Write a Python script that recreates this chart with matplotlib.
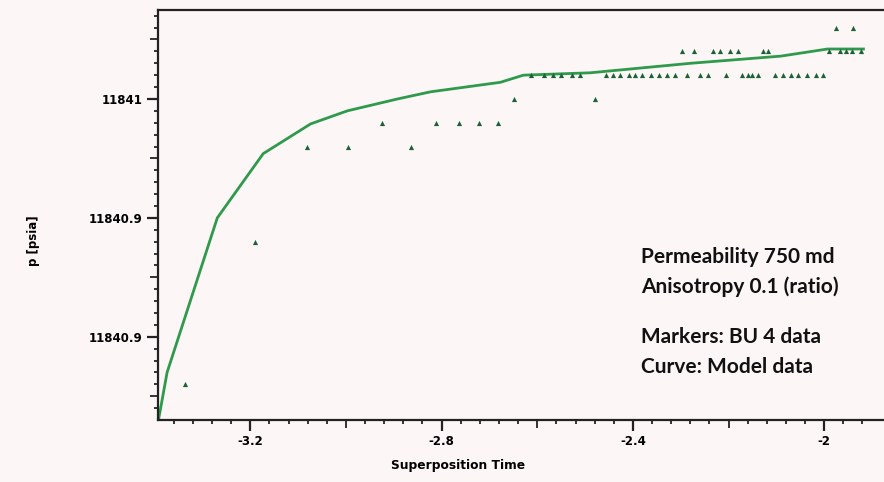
import numpy as np
import matplotlib
matplotlib.use("Agg")
import matplotlib.pyplot as plt
from matplotlib.ticker import FixedLocator, FixedFormatter

# BU 4 measured data (markers)
bu_x = [-3.336, -3.190, -3.081, -2.995, -2.863,
        -2.924, -2.811, -2.763, -2.721, -2.683,
        -2.648, -2.480,
        -2.614, -2.585, -2.568, -2.551, -2.528, -2.510, -2.457, -2.441, -2.426,
        -2.409, -2.395, -2.380, -2.363, -2.346, -2.328, -2.311, -2.286, -2.259,
        -2.244, -2.206, -2.171, -2.160, -2.150, -2.139, -2.102, -2.087, -2.070,
        -2.054, -2.035, -2.018, -2.003,
        -2.298, -2.273, -2.233, -2.217, -2.196, -2.181, -2.129, -2.118, -1.991,
        -1.966, -1.955, -1.941, -1.924,
        -1.976, -1.939]
bu_p = [11840.88, 11840.94, 11840.98, 11840.98, 11840.98,
        11840.99, 11840.99, 11840.99, 11840.99, 11840.99,
        11841.00, 11841.00,
        11841.01, 11841.01, 11841.01, 11841.01, 11841.01, 11841.01, 11841.01, 11841.01, 11841.01,
        11841.01, 11841.01, 11841.01, 11841.01, 11841.01, 11841.01, 11841.01, 11841.01, 11841.01,
        11841.01, 11841.01, 11841.01, 11841.01, 11841.01, 11841.01, 11841.01, 11841.01, 11841.01,
        11841.01, 11841.01, 11841.01, 11841.01,
        11841.02, 11841.02, 11841.02, 11841.02, 11841.02, 11841.02, 11841.02, 11841.02, 11841.02,
        11841.02, 11841.02, 11841.02, 11841.02,
        11841.03, 11841.03]

# model curve
model_x = [-3.392, -3.374, -3.269, -3.173, -3.074, -2.997, -2.892, -2.823, -2.677,
           -2.629, -2.489, -2.279, -2.091, -1.993, -1.918]
model_p = [11840.865, 11840.885, 11840.950, 11840.977, 11840.9895, 11840.995, 11841.000,
           11841.003, 11841.007, 11841.010, 11841.011, 11841.015, 11841.018, 11841.021, 11841.021]

x_ticks = [-3.2, -2.8, -2.4, -2.0]
x_labels = ["-3.2", "-2.8", "-2.4", "-2"]
y_ticks = [11840.90, 11840.95, 11841.00]
y_labels = ["11840.9", "11840.9", "11841"]

bg = "#fcf6f7"
fig = plt.figure(figsize=(8.84, 4.82), dpi=100, facecolor=bg)
ax = fig.add_axes([158 / 884, 1 - 420 / 482, 1 - 158 / 884, 410 / 482])
ax.set_facecolor(bg)

ax.plot(model_x, model_p, color="#2f9a4c", lw=2.0, zorder=2)
ax.scatter(bu_x, bu_p, marker="^", s=14, color="#1d6236", zorder=3, linewidths=0)

ax.set_xlim(-3.393, -1.875)
ax.set_ylim(11840.865, 11841.0374)

ax.spines["right"].set_visible(False)
for s in ["left", "bottom", "top"]:
    ax.spines[s].set_linewidth(1.6)
    ax.spines[s].set_color("#222222")

ax.xaxis.set_major_locator(FixedLocator(x_ticks))
ax.xaxis.set_major_formatter(FixedFormatter(x_labels))
ax.yaxis.set_major_locator(FixedLocator(y_ticks))
ax.yaxis.set_major_formatter(FixedFormatter(y_labels))

xmin = [v for v in np.round(np.arange(-3.36, -1.88, 0.04), 2) if min(abs(v - t) for t in x_ticks) > 0.01]
ymin = [v for v in np.round(np.arange(11840.87, 11841.037, 0.005), 3) if min(abs(v - t) for t in y_ticks) > 0.001]
ax.xaxis.set_minor_locator(FixedLocator(xmin))
ax.yaxis.set_minor_locator(FixedLocator(ymin))

ax.tick_params(which="major", direction="out", length=8, width=1.6, color="#222222",
               labelsize=8.5, pad=3)
ax.tick_params(which="minor", direction="out", length=3, width=1.4, color="#333333")
for lbl in ax.get_xticklabels() + ax.get_yticklabels():
    lbl.set_fontweight("bold")

# medium ticks half way between majors
for t, v in zip(ax.xaxis.get_minor_ticks(), xmin):
    if abs(round(v / 0.2) * 0.2 - v) < 0.005:
        t.tick1line.set_markersize(5.5)
for t, v in zip(ax.yaxis.get_minor_ticks(), ymin):
    if abs(round((v - 11840.9) / 0.025) * 0.025 - (v - 11840.9)) < 0.001:
        t.tick1line.set_markersize(5.5)

ax.set_xlabel("Superposition Time", fontsize=8.8, fontweight="bold")
ax.xaxis.set_label_coords((458 - 158) / 726, -(466 - 420) / 410)
ax.xaxis.label.set_va("center")
fig.text(33 / 884, 1 - 241 / 482, "p [psia]", rotation=90, fontsize=8.5, fontweight="bold",
         ha="center", va="center")

notes = [("Permeability 750 md", 257), ("Anisotropy 0.1 (ratio)", 287),
         ("Markers: BU 4 data", 337), ("Curve: Model data", 367)]
for txt, py in notes:
    fig.text(641 / 884, 1 - py / 482, txt, fontsize=15, fontfamily="Lato", fontweight="bold",
             ha="left", va="center", color="#111111")

fig.savefig("out.png", dpi=100, facecolor=bg)
